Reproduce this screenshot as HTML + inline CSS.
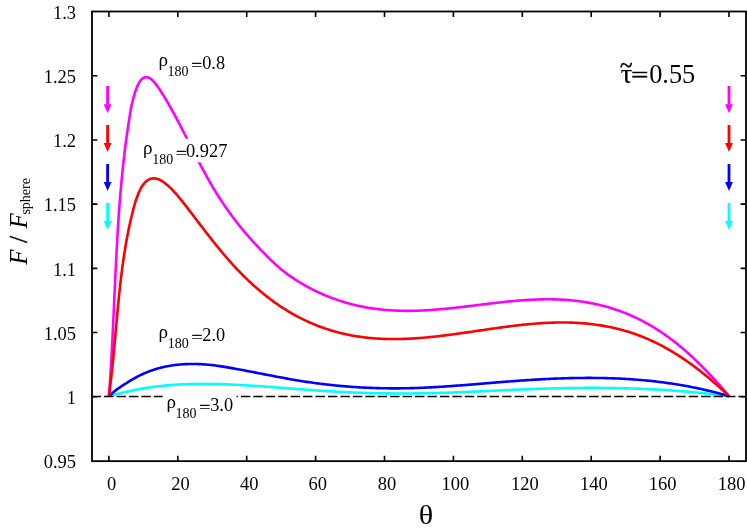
<!DOCTYPE html>
<html><head><meta charset="utf-8"><title>chart</title>
<style>html,body{margin:0;padding:0;background:#fff}body{width:747px;height:531px;overflow:hidden;position:relative;font-family:"Liberation Serif",serif}</style>
</head><body>
<svg width="747" height="531" viewBox="0 0 747 531" style="position:absolute;left:0;top:0;display:block">
<rect x="0" y="0" width="747" height="531" fill="#fff"/>
<path d="M108.90 396.20 L110.40 395.80 L111.90 395.40 L113.40 395.01 L114.90 394.62 L116.40 394.23 L117.90 393.85 L119.40 393.48 L120.90 393.11 L122.40 392.75 L123.90 392.39 L125.40 392.04 L126.90 391.69 L128.40 391.36 L129.90 391.02 L131.40 390.70 L132.90 390.38 L134.40 390.07 L135.90 389.77 L137.40 389.48 L138.90 389.20 L140.40 388.92 L141.90 388.65 L143.40 388.39 L144.90 388.14 L146.40 387.90 L147.90 387.67 L149.40 387.45 L150.90 387.23 L152.40 387.02 L153.90 386.82 L155.40 386.63 L156.90 386.44 L158.40 386.27 L159.90 386.10 L161.40 385.93 L162.90 385.78 L164.40 385.63 L165.90 385.49 L167.40 385.36 L168.90 385.23 L170.40 385.11 L171.90 385.00 L173.40 384.89 L174.90 384.79 L176.40 384.69 L177.90 384.60 L179.40 384.52 L180.90 384.44 L182.40 384.37 L183.90 384.31 L185.40 384.25 L186.90 384.19 L188.40 384.14 L189.90 384.10 L191.40 384.06 L192.90 384.03 L194.40 384.00 L195.90 383.98 L197.40 383.96 L198.90 383.94 L200.40 383.93 L201.90 383.93 L203.40 383.92 L204.90 383.93 L206.40 383.93 L207.90 383.94 L209.40 383.96 L210.90 383.98 L212.40 384.00 L213.90 384.03 L215.40 384.06 L216.90 384.09 L218.40 384.13 L219.90 384.17 L221.40 384.21 L222.90 384.26 L224.40 384.31 L225.90 384.36 L227.40 384.42 L228.90 384.48 L230.40 384.54 L231.90 384.61 L233.40 384.68 L234.90 384.75 L236.40 384.82 L237.90 384.90 L239.40 384.98 L240.90 385.06 L242.40 385.14 L243.90 385.22 L245.40 385.31 L246.90 385.40 L248.40 385.49 L249.90 385.58 L251.40 385.68 L252.90 385.77 L254.40 385.87 L255.90 385.97 L257.40 386.07 L258.90 386.17 L260.40 386.28 L261.90 386.38 L263.40 386.49 L264.90 386.59 L266.40 386.70 L267.90 386.81 L269.40 386.92 L270.90 387.03 L272.40 387.14 L273.90 387.25 L275.40 387.36 L276.90 387.47 L278.40 387.59 L279.90 387.70 L281.40 387.82 L282.90 387.93 L284.40 388.05 L285.90 388.16 L287.40 388.28 L288.90 388.39 L290.40 388.51 L291.90 388.62 L293.40 388.74 L294.90 388.85 L296.40 388.96 L297.90 389.08 L299.40 389.19 L300.90 389.31 L302.40 389.42 L303.90 389.53 L305.40 389.64 L306.90 389.75 L308.40 389.86 L309.90 389.97 L311.40 390.08 L312.90 390.19 L314.40 390.30 L315.90 390.40 L317.40 390.50 L318.90 390.61 L320.40 390.71 L321.90 390.81 L323.40 390.91 L324.90 391.01 L326.40 391.10 L327.90 391.20 L329.40 391.29 L330.90 391.38 L332.40 391.47 L333.90 391.56 L335.40 391.65 L336.90 391.73 L338.40 391.81 L339.90 391.89 L341.40 391.97 L342.90 392.04 L344.40 392.12 L345.90 392.19 L347.40 392.26 L348.90 392.33 L350.40 392.39 L351.90 392.46 L353.40 392.52 L354.90 392.58 L356.40 392.63 L357.90 392.69 L359.40 392.74 L360.90 392.79 L362.40 392.84 L363.90 392.89 L365.40 392.94 L366.90 392.98 L368.40 393.02 L369.90 393.06 L371.40 393.10 L372.90 393.14 L374.40 393.17 L375.90 393.20 L377.40 393.24 L378.90 393.26 L380.40 393.29 L381.90 393.32 L383.40 393.34 L384.90 393.36 L386.40 393.38 L387.90 393.40 L389.40 393.41 L390.90 393.43 L392.40 393.44 L393.90 393.45 L395.40 393.46 L396.90 393.46 L398.40 393.47 L399.90 393.47 L401.40 393.47 L402.90 393.47 L404.40 393.47 L405.90 393.47 L407.40 393.46 L408.90 393.45 L410.40 393.44 L411.90 393.43 L413.40 393.42 L414.90 393.41 L416.40 393.39 L417.90 393.37 L419.40 393.35 L420.90 393.33 L422.40 393.31 L423.90 393.28 L425.40 393.26 L426.90 393.23 L428.40 393.20 L429.90 393.17 L431.40 393.14 L432.90 393.10 L434.40 393.07 L435.90 393.03 L437.40 392.99 L438.90 392.95 L440.40 392.91 L441.90 392.87 L443.40 392.82 L444.90 392.77 L446.40 392.73 L447.90 392.68 L449.40 392.62 L450.90 392.57 L452.40 392.52 L453.90 392.46 L455.40 392.41 L456.90 392.35 L458.40 392.29 L459.90 392.23 L461.40 392.17 L462.90 392.11 L464.40 392.05 L465.90 391.99 L467.40 391.93 L468.90 391.86 L470.40 391.80 L471.90 391.73 L473.40 391.66 L474.90 391.60 L476.40 391.53 L477.90 391.46 L479.40 391.39 L480.90 391.32 L482.40 391.26 L483.90 391.19 L485.40 391.12 L486.90 391.05 L488.40 390.98 L489.90 390.91 L491.40 390.84 L492.90 390.77 L494.40 390.69 L495.90 390.62 L497.40 390.55 L498.90 390.48 L500.40 390.41 L501.90 390.34 L503.40 390.27 L504.90 390.21 L506.40 390.14 L507.90 390.07 L509.40 390.00 L510.90 389.93 L512.40 389.87 L513.90 389.80 L515.40 389.73 L516.90 389.67 L518.40 389.60 L519.90 389.54 L521.40 389.48 L522.90 389.42 L524.40 389.35 L525.90 389.29 L527.40 389.24 L528.90 389.18 L530.40 389.12 L531.90 389.06 L533.40 389.01 L534.90 388.96 L536.40 388.90 L537.90 388.85 L539.40 388.80 L540.90 388.75 L542.40 388.70 L543.90 388.66 L545.40 388.61 L546.90 388.57 L548.40 388.53 L549.90 388.49 L551.40 388.45 L552.90 388.41 L554.40 388.37 L555.90 388.33 L557.40 388.30 L558.90 388.27 L560.40 388.23 L561.90 388.20 L563.40 388.17 L564.90 388.15 L566.40 388.12 L567.90 388.09 L569.40 388.07 L570.90 388.05 L572.40 388.03 L573.90 388.01 L575.40 387.99 L576.90 387.98 L578.40 387.96 L579.90 387.95 L581.40 387.94 L582.90 387.93 L584.40 387.92 L585.90 387.91 L587.40 387.91 L588.90 387.90 L590.40 387.90 L591.90 387.90 L593.40 387.90 L594.90 387.90 L596.40 387.91 L597.90 387.91 L599.40 387.92 L600.90 387.93 L602.40 387.94 L603.90 387.95 L605.40 387.97 L606.90 387.99 L608.40 388.00 L609.90 388.02 L611.40 388.04 L612.90 388.07 L614.40 388.09 L615.90 388.12 L617.40 388.15 L618.90 388.18 L620.40 388.21 L621.90 388.25 L623.40 388.28 L624.90 388.32 L626.40 388.36 L627.90 388.40 L629.40 388.45 L630.90 388.49 L632.40 388.54 L633.90 388.59 L635.40 388.64 L636.90 388.69 L638.40 388.75 L639.90 388.81 L641.40 388.86 L642.90 388.93 L644.40 388.99 L645.90 389.05 L647.40 389.12 L648.90 389.19 L650.40 389.26 L651.90 389.34 L653.40 389.41 L654.90 389.49 L656.40 389.57 L657.90 389.65 L659.40 389.74 L660.90 389.82 L662.40 389.91 L663.90 390.00 L665.40 390.09 L666.90 390.19 L668.40 390.29 L669.90 390.39 L671.40 390.49 L672.90 390.59 L674.40 390.70 L675.90 390.81 L677.40 390.92 L678.90 391.03 L680.40 391.15 L681.90 391.26 L683.40 391.38 L684.90 391.51 L686.40 391.63 L687.90 391.76 L689.40 391.89 L690.90 392.02 L692.40 392.15 L693.90 392.29 L695.40 392.43 L696.90 392.57 L698.40 392.71 L699.90 392.86 L701.40 393.01 L702.90 393.16 L704.40 393.31 L705.90 393.47 L707.40 393.63 L708.90 393.79 L710.40 393.95 L711.90 394.12 L713.40 394.29 L714.90 394.46 L716.40 394.63 L717.90 394.81 L719.40 394.99 L720.90 395.17 L722.40 395.36 L723.90 395.54 L725.40 395.73 L726.90 395.93 L728.40 396.12 L729.00 396.20" fill="none" stroke="#00ffff" stroke-width="2.60" stroke-linejoin="round" stroke-linecap="butt"/>
<path d="M108.90 396.20 L110.40 394.80 L111.90 393.48 L113.40 392.21 L114.90 391.01 L116.40 389.86 L117.90 388.75 L119.40 387.69 L120.90 386.66 L122.40 385.67 L123.90 384.69 L125.40 383.74 L126.90 382.80 L128.40 381.88 L129.90 380.97 L131.40 380.07 L132.90 379.19 L134.40 378.33 L135.90 377.50 L137.40 376.70 L138.90 375.92 L140.40 375.18 L141.90 374.46 L143.40 373.78 L144.90 373.12 L146.40 372.48 L147.90 371.88 L149.40 371.30 L150.90 370.75 L152.40 370.22 L153.90 369.71 L155.40 369.23 L156.90 368.78 L158.40 368.35 L159.90 367.94 L161.40 367.56 L162.90 367.19 L164.40 366.85 L165.90 366.53 L167.40 366.23 L168.90 365.96 L170.40 365.70 L171.90 365.46 L173.40 365.24 L174.90 365.05 L176.40 364.86 L177.90 364.70 L179.40 364.56 L180.90 364.43 L182.40 364.32 L183.90 364.22 L185.40 364.15 L186.90 364.08 L188.40 364.03 L189.90 364.00 L191.40 363.98 L192.90 363.98 L194.40 363.99 L195.90 364.01 L197.40 364.05 L198.90 364.10 L200.40 364.17 L201.90 364.25 L203.40 364.34 L204.90 364.44 L206.40 364.56 L207.90 364.69 L209.40 364.83 L210.90 364.99 L212.40 365.15 L213.90 365.33 L215.40 365.52 L216.90 365.72 L218.40 365.92 L219.90 366.14 L221.40 366.37 L222.90 366.61 L224.40 366.85 L225.90 367.10 L227.40 367.35 L228.90 367.61 L230.40 367.87 L231.90 368.13 L233.40 368.40 L234.90 368.67 L236.40 368.95 L237.90 369.22 L239.40 369.50 L240.90 369.78 L242.40 370.06 L243.90 370.34 L245.40 370.62 L246.90 370.91 L248.40 371.20 L249.90 371.48 L251.40 371.77 L252.90 372.06 L254.40 372.35 L255.90 372.64 L257.40 372.93 L258.90 373.22 L260.40 373.52 L261.90 373.81 L263.40 374.10 L264.90 374.39 L266.40 374.68 L267.90 374.97 L269.40 375.26 L270.90 375.55 L272.40 375.84 L273.90 376.13 L275.40 376.41 L276.90 376.70 L278.40 376.98 L279.90 377.26 L281.40 377.54 L282.90 377.82 L284.40 378.09 L285.90 378.37 L287.40 378.64 L288.90 378.91 L290.40 379.17 L291.90 379.44 L293.40 379.70 L294.90 379.95 L296.40 380.21 L297.90 380.46 L299.40 380.71 L300.90 380.95 L302.40 381.19 L303.90 381.43 L305.40 381.66 L306.90 381.89 L308.40 382.11 L309.90 382.33 L311.40 382.55 L312.90 382.76 L314.40 382.97 L315.90 383.17 L317.40 383.37 L318.90 383.57 L320.40 383.76 L321.90 383.95 L323.40 384.13 L324.90 384.31 L326.40 384.49 L327.90 384.66 L329.40 384.83 L330.90 384.99 L332.40 385.15 L333.90 385.30 L335.40 385.45 L336.90 385.60 L338.40 385.75 L339.90 385.89 L341.40 386.02 L342.90 386.15 L344.40 386.28 L345.90 386.40 L347.40 386.52 L348.90 386.64 L350.40 386.75 L351.90 386.86 L353.40 386.96 L354.90 387.06 L356.40 387.16 L357.90 387.25 L359.40 387.34 L360.90 387.43 L362.40 387.51 L363.90 387.59 L365.40 387.66 L366.90 387.73 L368.40 387.80 L369.90 387.86 L371.40 387.92 L372.90 387.97 L374.40 388.02 L375.90 388.07 L377.40 388.12 L378.90 388.16 L380.40 388.19 L381.90 388.22 L383.40 388.25 L384.90 388.28 L386.40 388.30 L387.90 388.32 L389.40 388.33 L390.90 388.34 L392.40 388.35 L393.90 388.35 L395.40 388.35 L396.90 388.35 L398.40 388.34 L399.90 388.33 L401.40 388.32 L402.90 388.30 L404.40 388.28 L405.90 388.25 L407.40 388.23 L408.90 388.19 L410.40 388.16 L411.90 388.12 L413.40 388.08 L414.90 388.03 L416.40 387.98 L417.90 387.93 L419.40 387.87 L420.90 387.82 L422.40 387.75 L423.90 387.69 L425.40 387.62 L426.90 387.55 L428.40 387.48 L429.90 387.41 L431.40 387.33 L432.90 387.25 L434.40 387.16 L435.90 387.08 L437.40 386.99 L438.90 386.90 L440.40 386.81 L441.90 386.71 L443.40 386.62 L444.90 386.52 L446.40 386.42 L447.90 386.32 L449.40 386.21 L450.90 386.11 L452.40 386.00 L453.90 385.89 L455.40 385.78 L456.90 385.67 L458.40 385.56 L459.90 385.45 L461.40 385.33 L462.90 385.22 L464.40 385.10 L465.90 384.98 L467.40 384.86 L468.90 384.74 L470.40 384.62 L471.90 384.50 L473.40 384.38 L474.90 384.25 L476.40 384.13 L477.90 384.01 L479.40 383.88 L480.90 383.76 L482.40 383.63 L483.90 383.51 L485.40 383.38 L486.90 383.26 L488.40 383.14 L489.90 383.01 L491.40 382.89 L492.90 382.76 L494.40 382.64 L495.90 382.52 L497.40 382.39 L498.90 382.27 L500.40 382.15 L501.90 382.03 L503.40 381.91 L504.90 381.79 L506.40 381.67 L507.90 381.55 L509.40 381.44 L510.90 381.32 L512.40 381.21 L513.90 381.09 L515.40 380.98 L516.90 380.87 L518.40 380.76 L519.90 380.66 L521.40 380.55 L522.90 380.45 L524.40 380.34 L525.90 380.24 L527.40 380.14 L528.90 380.04 L530.40 379.95 L531.90 379.85 L533.40 379.76 L534.90 379.67 L536.40 379.58 L537.90 379.50 L539.40 379.41 L540.90 379.33 L542.40 379.25 L543.90 379.17 L545.40 379.09 L546.90 379.01 L548.40 378.94 L549.90 378.87 L551.40 378.80 L552.90 378.74 L554.40 378.67 L555.90 378.61 L557.40 378.55 L558.90 378.50 L560.40 378.44 L561.90 378.39 L563.40 378.34 L564.90 378.29 L566.40 378.25 L567.90 378.21 L569.40 378.17 L570.90 378.13 L572.40 378.10 L573.90 378.07 L575.40 378.04 L576.90 378.01 L578.40 377.99 L579.90 377.97 L581.40 377.95 L582.90 377.94 L584.40 377.93 L585.90 377.92 L587.40 377.91 L588.90 377.91 L590.40 377.91 L591.90 377.92 L593.40 377.93 L594.90 377.94 L596.40 377.95 L597.90 377.97 L599.40 377.99 L600.90 378.01 L602.40 378.04 L603.90 378.07 L605.40 378.10 L606.90 378.14 L608.40 378.18 L609.90 378.23 L611.40 378.28 L612.90 378.33 L614.40 378.38 L615.90 378.44 L617.40 378.51 L618.90 378.57 L620.40 378.64 L621.90 378.72 L623.40 378.80 L624.90 378.88 L626.40 378.97 L627.90 379.06 L629.40 379.15 L630.90 379.25 L632.40 379.35 L633.90 379.46 L635.40 379.57 L636.90 379.68 L638.40 379.80 L639.90 379.93 L641.40 380.06 L642.90 380.19 L644.40 380.32 L645.90 380.46 L647.40 380.61 L648.90 380.76 L650.40 380.91 L651.90 381.07 L653.40 381.24 L654.90 381.40 L656.40 381.58 L657.90 381.76 L659.40 381.94 L660.90 382.12 L662.40 382.32 L663.90 382.51 L665.40 382.71 L666.90 382.92 L668.40 383.13 L669.90 383.35 L671.40 383.57 L672.90 383.79 L674.40 384.03 L675.90 384.26 L677.40 384.50 L678.90 384.75 L680.40 385.00 L681.90 385.26 L683.40 385.52 L684.90 385.79 L686.40 386.06 L687.90 386.34 L689.40 386.63 L690.90 386.91 L692.40 387.21 L693.90 387.51 L695.40 387.82 L696.90 388.13 L698.40 388.44 L699.90 388.77 L701.40 389.10 L702.90 389.43 L704.40 389.77 L705.90 390.12 L707.40 390.47 L708.90 390.83 L710.40 391.19 L711.90 391.56 L713.40 391.93 L714.90 392.31 L716.40 392.70 L717.90 393.10 L719.40 393.50 L720.90 393.90 L722.40 394.31 L723.90 394.73 L725.40 395.16 L726.90 395.59 L728.40 396.02 L729.00 396.20" fill="none" stroke="#0000ff" stroke-width="2.60" stroke-linejoin="round" stroke-linecap="butt"/>
<path d="M108.90 396.20 L109.05 394.20 L109.20 392.20 L109.35 390.20 L109.50 388.20 L109.64 386.20 L109.78 384.20 L109.92 382.20 L110.05 380.20 L110.19 378.20 L110.32 376.20 L110.45 374.20 L110.57 372.20 L110.70 370.20 L110.82 368.20 L110.94 366.20 L111.06 364.20 L111.18 362.20 L111.30 360.20 L111.41 358.20 L111.52 356.20 L111.64 354.20 L111.75 352.20 L111.85 350.20 L111.96 348.20 L112.07 346.20 L112.17 344.20 L112.27 342.20 L112.37 340.20 L112.48 338.20 L112.58 336.20 L112.67 334.20 L112.77 332.20 L112.87 330.20 L112.96 328.20 L113.06 326.20 L113.15 324.20 L113.25 322.20 L113.34 320.20 L113.43 318.20 L113.52 316.20 L113.62 314.20 L113.71 312.20 L113.80 310.20 L113.89 308.20 L113.98 306.20 L114.07 304.20 L114.16 302.20 L114.25 300.20 L114.34 298.20 L114.43 296.20 L114.52 294.20 L114.61 292.20 L114.70 290.20 L114.79 288.20 L114.88 286.20 L114.97 284.20 L115.06 282.20 L115.16 280.20 L115.25 278.20 L115.34 276.20 L115.44 274.20 L115.53 272.20 L115.63 270.20 L115.72 268.20 L115.82 266.20 L115.92 264.20 L116.02 262.20 L116.12 260.20 L116.22 258.20 L116.32 256.20 L116.43 254.20 L116.53 252.20 L116.64 250.20 L116.75 248.20 L116.86 246.20 L116.97 244.20 L117.08 242.20 L117.19 240.20 L117.31 238.20 L117.43 236.20 L117.54 234.20 L117.67 232.20 L117.79 230.20 L117.91 228.20 L118.04 226.20 L118.17 224.20 L118.30 222.20 L118.43 220.20 L118.57 218.20 L118.70 216.20 L118.84 214.20 L118.99 212.20 L119.13 210.20 L119.28 208.20 L119.43 206.20 L119.58 204.20 L119.73 202.20 L119.89 200.20 L120.05 198.20 L120.22 196.20 L120.38 194.20 L120.55 192.20 L120.72 190.20 L120.90 188.20 L121.08 186.20 L121.26 184.20 L121.44 182.20 L121.63 180.20 L121.82 178.20 L122.01 176.20 L122.21 174.20 L122.41 172.20 L122.62 170.20 L122.83 168.20 L123.04 166.20 L123.25 164.20 L123.47 162.20 L123.70 160.20 L123.93 158.20 L124.16 156.20 L124.39 154.20 L124.63 152.20 L124.87 150.20 L125.12 148.20 L125.37 146.20 L125.63 144.20 L125.89 142.20 L126.15 140.20 L126.42 138.20 L126.70 136.20 L126.98 134.20 L127.26 132.20 L127.55 130.20 L127.84 128.20 L128.13 126.20 L128.44 124.20 L128.74 122.20 L129.05 120.20 L129.37 118.20 L129.69 116.20 L130.02 114.20 L130.35 112.20 L130.69 110.20 L131.03 108.20 L131.38 106.20 L131.59 105.00 L132.20 102.80 L133.70 96.76 L135.20 91.74 L136.70 87.65 L138.20 84.36 L139.70 81.78 L141.20 79.81 L142.70 78.42 L144.20 77.55 L145.70 77.17 L147.20 77.22 L148.70 77.68 L150.20 78.50 L151.70 79.64 L153.20 81.07 L154.70 82.74 L156.20 84.62 L157.70 86.67 L159.20 88.86 L160.70 91.13 L162.20 93.48 L163.70 95.88 L165.20 98.35 L166.70 100.87 L168.20 103.45 L169.70 106.07 L171.20 108.74 L172.70 111.45 L174.20 114.20 L175.70 116.98 L177.20 119.80 L178.70 122.64 L180.20 125.51 L181.70 128.40 L183.20 131.31 L184.70 134.23 L186.20 137.16 L187.70 140.10 L189.20 143.04 L190.70 145.99 L192.20 148.93 L193.70 151.86 L195.20 154.79 L196.70 157.70 L198.20 160.59 L199.70 163.46 L201.20 166.31 L202.70 169.14 L204.20 171.93 L205.70 174.68 L207.20 177.40 L208.70 180.08 L210.20 182.71 L211.70 185.30 L213.20 187.84 L214.70 190.33 L216.20 192.78 L217.70 195.19 L219.20 197.55 L220.70 199.87 L222.20 202.14 L223.70 204.38 L225.20 206.58 L226.70 208.75 L228.20 210.87 L229.70 212.96 L231.20 215.01 L232.70 217.03 L234.20 219.02 L235.70 220.98 L237.20 222.90 L238.70 224.80 L240.20 226.67 L241.70 228.50 L243.20 230.32 L244.70 232.10 L246.20 233.87 L247.70 235.60 L249.20 237.32 L250.70 239.01 L252.20 240.69 L253.70 242.34 L255.20 243.97 L256.70 245.59 L258.20 247.19 L259.70 248.78 L261.20 250.35 L262.70 251.90 L264.20 253.44 L265.70 254.96 L267.20 256.46 L268.70 257.94 L270.20 259.40 L271.70 260.84 L273.20 262.25 L274.70 263.64 L276.20 265.00 L277.70 266.33 L279.20 267.63 L280.70 268.90 L282.20 270.14 L283.70 271.34 L285.20 272.51 L286.70 273.65 L288.20 274.76 L289.70 275.83 L291.20 276.88 L292.70 277.90 L294.20 278.90 L295.70 279.87 L297.20 280.82 L298.70 281.75 L300.20 282.66 L301.70 283.55 L303.20 284.43 L304.70 285.29 L306.20 286.13 L307.70 286.95 L309.20 287.76 L310.70 288.55 L312.20 289.33 L313.70 290.09 L315.20 290.83 L316.70 291.56 L318.20 292.27 L319.70 292.96 L321.20 293.64 L322.70 294.31 L324.20 294.95 L325.70 295.59 L327.20 296.21 L328.70 296.81 L330.20 297.40 L331.70 297.97 L333.20 298.53 L334.70 299.07 L336.20 299.60 L337.70 300.12 L339.20 300.62 L340.70 301.11 L342.20 301.58 L343.70 302.04 L345.20 302.49 L346.70 302.92 L348.20 303.35 L349.70 303.75 L351.20 304.15 L352.70 304.53 L354.20 304.90 L355.70 305.25 L357.20 305.60 L358.70 305.93 L360.20 306.25 L361.70 306.56 L363.20 306.85 L364.70 307.13 L366.20 307.41 L367.70 307.67 L369.20 307.92 L370.70 308.15 L372.20 308.38 L373.70 308.60 L375.20 308.80 L376.70 309.00 L378.20 309.18 L379.70 309.35 L381.20 309.52 L382.70 309.67 L384.20 309.81 L385.70 309.94 L387.20 310.07 L388.70 310.18 L390.20 310.28 L391.70 310.38 L393.20 310.46 L394.70 310.54 L396.20 310.61 L397.70 310.67 L399.20 310.71 L400.70 310.76 L402.20 310.79 L403.70 310.81 L405.20 310.83 L406.70 310.84 L408.20 310.84 L409.70 310.83 L411.20 310.81 L412.70 310.79 L414.20 310.76 L415.70 310.72 L417.20 310.68 L418.70 310.63 L420.20 310.57 L421.70 310.51 L423.20 310.44 L424.70 310.36 L426.20 310.28 L427.70 310.19 L429.20 310.10 L430.70 310.00 L432.20 309.89 L433.70 309.78 L435.20 309.67 L436.70 309.55 L438.20 309.42 L439.70 309.30 L441.20 309.16 L442.70 309.03 L444.20 308.89 L445.70 308.74 L447.20 308.59 L448.70 308.44 L450.20 308.29 L451.70 308.13 L453.20 307.97 L454.70 307.80 L456.20 307.64 L457.70 307.47 L459.20 307.30 L460.70 307.12 L462.20 306.95 L463.70 306.77 L465.20 306.59 L466.70 306.41 L468.20 306.23 L469.70 306.05 L471.20 305.87 L472.70 305.68 L474.20 305.50 L475.70 305.32 L477.20 305.13 L478.70 304.95 L480.20 304.76 L481.70 304.58 L483.20 304.39 L484.70 304.21 L486.20 304.03 L487.70 303.84 L489.20 303.66 L490.70 303.48 L492.20 303.31 L493.70 303.13 L495.20 302.96 L496.70 302.78 L498.20 302.61 L499.70 302.45 L501.20 302.28 L502.70 302.12 L504.20 301.96 L505.70 301.80 L507.20 301.65 L508.70 301.50 L510.20 301.35 L511.70 301.21 L513.20 301.07 L514.70 300.93 L516.20 300.80 L517.70 300.67 L519.20 300.55 L520.70 300.43 L522.20 300.32 L523.70 300.21 L525.20 300.11 L526.70 300.01 L528.20 299.92 L529.70 299.83 L531.20 299.75 L532.70 299.68 L534.20 299.61 L535.70 299.55 L537.20 299.49 L538.70 299.44 L540.20 299.40 L541.70 299.37 L543.20 299.34 L544.70 299.32 L546.20 299.31 L547.70 299.30 L549.20 299.31 L550.70 299.32 L552.20 299.34 L553.70 299.36 L555.20 299.40 L556.70 299.44 L558.20 299.50 L559.70 299.56 L561.20 299.63 L562.70 299.71 L564.20 299.80 L565.70 299.90 L567.20 300.01 L568.70 300.13 L570.20 300.26 L571.70 300.40 L573.20 300.55 L574.70 300.71 L576.20 300.88 L577.70 301.06 L579.20 301.25 L580.70 301.45 L582.20 301.67 L583.70 301.89 L585.20 302.13 L586.70 302.37 L588.20 302.63 L589.70 302.90 L591.20 303.19 L592.70 303.48 L594.20 303.79 L595.70 304.11 L597.20 304.44 L598.70 304.78 L600.20 305.14 L601.70 305.51 L603.20 305.89 L604.70 306.29 L606.20 306.70 L607.70 307.12 L609.20 307.56 L610.70 308.01 L612.20 308.47 L613.70 308.95 L615.20 309.45 L616.70 309.95 L618.20 310.47 L619.70 311.01 L621.20 311.56 L622.70 312.13 L624.20 312.71 L625.70 313.30 L627.20 313.91 L628.70 314.54 L630.20 315.18 L631.70 315.84 L633.20 316.51 L634.70 317.20 L636.20 317.91 L637.70 318.63 L639.20 319.37 L640.70 320.13 L642.20 320.90 L643.70 321.69 L645.20 322.49 L646.70 323.32 L648.20 324.16 L649.70 325.02 L651.20 325.89 L652.70 326.78 L654.20 327.70 L655.70 328.62 L657.20 329.57 L658.70 330.54 L660.20 331.52 L661.70 332.52 L663.20 333.55 L664.70 334.59 L666.20 335.65 L667.70 336.72 L669.20 337.82 L670.70 338.94 L672.20 340.07 L673.70 341.23 L675.20 342.40 L676.70 343.59 L678.20 344.81 L679.70 346.03 L681.20 347.28 L682.70 348.55 L684.20 349.83 L685.70 351.14 L687.20 352.46 L688.70 353.80 L690.20 355.15 L691.70 356.53 L693.20 357.92 L694.70 359.33 L696.20 360.76 L697.70 362.20 L699.20 363.67 L700.70 365.15 L702.20 366.64 L703.70 368.16 L705.20 369.69 L706.70 371.24 L708.20 372.80 L709.70 374.38 L711.20 375.98 L712.70 377.60 L714.20 379.23 L715.70 380.88 L717.20 382.54 L718.70 384.22 L720.20 385.92 L721.70 387.64 L723.20 389.36 L724.70 391.11 L726.20 392.87 L727.70 394.65 L729.00 396.20" fill="none" stroke="#ff00ff" stroke-width="2.60" stroke-linejoin="round" stroke-linecap="butt"/>
<path d="M108.90 396.20 L109.17 394.20 L109.44 392.20 L109.70 390.20 L109.96 388.20 L110.21 386.20 L110.45 384.20 L110.69 382.20 L110.93 380.20 L111.16 378.20 L111.39 376.20 L111.61 374.20 L111.83 372.20 L112.04 370.20 L112.26 368.20 L112.47 366.20 L112.67 364.20 L112.87 362.20 L113.07 360.20 L113.27 358.20 L113.46 356.20 L113.66 354.20 L113.85 352.20 L114.03 350.20 L114.22 348.20 L114.40 346.20 L114.59 344.20 L114.77 342.20 L114.95 340.20 L115.13 338.20 L115.31 336.20 L115.49 334.20 L115.67 332.20 L115.84 330.20 L116.02 328.20 L116.20 326.20 L116.38 324.20 L116.56 322.20 L116.74 320.20 L116.92 318.20 L117.10 316.20 L117.28 314.20 L117.47 312.20 L117.65 310.20 L117.84 308.20 L118.03 306.20 L118.22 304.20 L118.42 302.20 L118.61 300.20 L118.81 298.20 L119.02 296.20 L119.22 294.20 L119.43 292.20 L119.64 290.20 L119.86 288.20 L120.08 286.20 L120.30 284.20 L120.53 282.20 L120.76 280.20 L120.99 278.20 L121.24 276.20 L121.48 274.20 L121.73 272.20 L121.99 270.20 L122.25 268.20 L122.51 266.20 L122.79 264.20 L123.06 262.20 L123.35 260.20 L123.64 258.20 L123.93 256.20 L124.24 254.20 L124.55 252.20 L124.86 250.20 L125.19 248.20 L125.52 246.20 L125.86 244.20 L126.21 242.20 L126.56 240.20 L126.93 238.20 L127.30 236.20 L127.68 234.20 L128.07 232.20 L128.48 230.20 L128.89 228.20 L129.31 226.20 L129.74 224.20 L130.19 222.20 L130.64 220.20 L131.11 218.20 L131.59 216.20 L132.08 214.20 L132.58 212.20 L133.10 210.20 L133.63 208.20 L134.17 206.20 L134.73 204.20 L135.30 202.20 L135.89 200.20 L135.95 200.00 L137.10 196.98 L138.60 192.98 L140.10 189.69 L141.60 186.99 L143.10 184.77 L144.60 182.94 L146.10 181.45 L147.60 180.28 L149.10 179.41 L150.60 178.81 L152.10 178.46 L153.60 178.34 L155.10 178.42 L156.60 178.70 L158.10 179.16 L159.60 179.79 L161.10 180.56 L162.60 181.47 L164.10 182.51 L165.60 183.66 L167.10 184.90 L168.60 186.24 L170.10 187.65 L171.60 189.13 L173.10 190.69 L174.60 192.31 L176.10 193.99 L177.60 195.72 L179.10 197.50 L180.60 199.32 L182.10 201.18 L183.60 203.07 L185.10 204.98 L186.60 206.92 L188.10 208.87 L189.60 210.84 L191.10 212.80 L192.60 214.77 L194.10 216.74 L195.60 218.71 L197.10 220.68 L198.60 222.65 L200.10 224.61 L201.60 226.56 L203.10 228.52 L204.60 230.46 L206.10 232.40 L207.60 234.33 L209.10 236.26 L210.60 238.17 L212.10 240.07 L213.60 241.96 L215.10 243.84 L216.60 245.70 L218.10 247.55 L219.60 249.38 L221.10 251.20 L222.60 253.00 L224.10 254.77 L225.60 256.53 L227.10 258.27 L228.60 259.99 L230.10 261.69 L231.60 263.36 L233.10 265.01 L234.60 266.64 L236.10 268.25 L237.60 269.84 L239.10 271.40 L240.60 272.94 L242.10 274.46 L243.60 275.96 L245.10 277.44 L246.60 278.90 L248.10 280.33 L249.60 281.75 L251.10 283.14 L252.60 284.52 L254.10 285.87 L255.60 287.20 L257.10 288.51 L258.60 289.80 L260.10 291.07 L261.60 292.33 L263.10 293.56 L264.60 294.77 L266.10 295.96 L267.60 297.13 L269.10 298.28 L270.60 299.42 L272.10 300.53 L273.60 301.62 L275.10 302.70 L276.60 303.76 L278.10 304.79 L279.60 305.81 L281.10 306.81 L282.60 307.79 L284.10 308.76 L285.60 309.70 L287.10 310.63 L288.60 311.54 L290.10 312.43 L291.60 313.30 L293.10 314.16 L294.60 315.00 L296.10 315.82 L297.60 316.63 L299.10 317.41 L300.60 318.19 L302.10 318.94 L303.60 319.68 L305.10 320.40 L306.60 321.10 L308.10 321.79 L309.60 322.47 L311.10 323.12 L312.60 323.77 L314.10 324.39 L315.60 325.00 L317.10 325.60 L318.60 326.18 L320.10 326.74 L321.60 327.30 L323.10 327.83 L324.60 328.35 L326.10 328.86 L327.60 329.35 L329.10 329.83 L330.60 330.30 L332.10 330.75 L333.60 331.19 L335.10 331.61 L336.60 332.02 L338.10 332.42 L339.60 332.80 L341.10 333.17 L342.60 333.53 L344.10 333.87 L345.60 334.21 L347.10 334.53 L348.60 334.84 L350.10 335.13 L351.60 335.42 L353.10 335.69 L354.60 335.95 L356.10 336.20 L357.60 336.44 L359.10 336.66 L360.60 336.88 L362.10 337.08 L363.60 337.27 L365.10 337.46 L366.60 337.63 L368.10 337.79 L369.60 337.94 L371.10 338.08 L372.60 338.21 L374.10 338.33 L375.60 338.44 L377.10 338.55 L378.60 338.64 L380.10 338.72 L381.60 338.79 L383.10 338.86 L384.60 338.91 L386.10 338.96 L387.60 339.00 L389.10 339.03 L390.60 339.05 L392.10 339.06 L393.60 339.07 L395.10 339.07 L396.60 339.05 L398.10 339.04 L399.60 339.01 L401.10 338.98 L402.60 338.94 L404.10 338.89 L405.60 338.84 L407.10 338.78 L408.60 338.71 L410.10 338.63 L411.60 338.55 L413.10 338.47 L414.60 338.37 L416.10 338.27 L417.60 338.17 L419.10 338.06 L420.60 337.94 L422.10 337.82 L423.60 337.70 L425.10 337.56 L426.60 337.43 L428.10 337.29 L429.60 337.14 L431.10 336.99 L432.60 336.83 L434.10 336.68 L435.60 336.51 L437.10 336.34 L438.60 336.17 L440.10 336.00 L441.60 335.82 L443.10 335.64 L444.60 335.45 L446.10 335.26 L447.60 335.07 L449.10 334.88 L450.60 334.68 L452.10 334.48 L453.60 334.28 L455.10 334.08 L456.60 333.87 L458.10 333.66 L459.60 333.45 L461.10 333.24 L462.60 333.03 L464.10 332.81 L465.60 332.60 L467.10 332.38 L468.60 332.16 L470.10 331.94 L471.60 331.72 L473.10 331.50 L474.60 331.28 L476.10 331.06 L477.60 330.84 L479.10 330.62 L480.60 330.39 L482.10 330.17 L483.60 329.95 L485.10 329.73 L486.60 329.51 L488.10 329.29 L489.60 329.07 L491.10 328.86 L492.60 328.64 L494.10 328.43 L495.60 328.22 L497.10 328.00 L498.60 327.80 L500.10 327.59 L501.60 327.38 L503.10 327.18 L504.60 326.98 L506.10 326.78 L507.60 326.59 L509.10 326.39 L510.60 326.20 L512.10 326.02 L513.60 325.83 L515.10 325.65 L516.60 325.48 L518.10 325.30 L519.60 325.13 L521.10 324.97 L522.60 324.81 L524.10 324.65 L525.60 324.50 L527.10 324.35 L528.60 324.20 L530.10 324.06 L531.60 323.93 L533.10 323.80 L534.60 323.68 L536.10 323.56 L537.60 323.44 L539.10 323.34 L540.60 323.24 L542.10 323.14 L543.60 323.05 L545.10 322.97 L546.60 322.89 L548.10 322.82 L549.60 322.75 L551.10 322.69 L552.60 322.64 L554.10 322.60 L555.60 322.56 L557.10 322.53 L558.60 322.51 L560.10 322.50 L561.60 322.49 L563.10 322.49 L564.60 322.50 L566.10 322.51 L567.60 322.54 L569.10 322.57 L570.60 322.61 L572.10 322.66 L573.60 322.72 L575.10 322.79 L576.60 322.86 L578.10 322.95 L579.60 323.04 L581.10 323.14 L582.60 323.26 L584.10 323.38 L585.60 323.51 L587.10 323.65 L588.60 323.80 L590.10 323.96 L591.60 324.14 L593.10 324.32 L594.60 324.51 L596.10 324.71 L597.60 324.92 L599.10 325.15 L600.60 325.38 L602.10 325.63 L603.60 325.89 L605.10 326.16 L606.60 326.43 L608.10 326.73 L609.60 327.03 L611.10 327.34 L612.60 327.67 L614.10 328.01 L615.60 328.36 L617.10 328.72 L618.60 329.10 L620.10 329.49 L621.60 329.89 L623.10 330.30 L624.60 330.73 L626.10 331.17 L627.60 331.62 L629.10 332.08 L630.60 332.56 L632.10 333.06 L633.60 333.56 L635.10 334.08 L636.60 334.62 L638.10 335.17 L639.60 335.73 L641.10 336.30 L642.60 336.90 L644.10 337.50 L645.60 338.12 L647.10 338.76 L648.60 339.41 L650.10 340.07 L651.60 340.75 L653.10 341.45 L654.60 342.16 L656.10 342.89 L657.60 343.63 L659.10 344.39 L660.60 345.16 L662.10 345.95 L663.60 346.75 L665.10 347.57 L666.60 348.41 L668.10 349.26 L669.60 350.13 L671.10 351.01 L672.60 351.90 L674.10 352.82 L675.60 353.74 L677.10 354.69 L678.60 355.64 L680.10 356.61 L681.60 357.60 L683.10 358.60 L684.60 359.62 L686.10 360.65 L687.60 361.70 L689.10 362.76 L690.60 363.83 L692.10 364.92 L693.60 366.03 L695.10 367.15 L696.60 368.28 L698.10 369.43 L699.60 370.59 L701.10 371.77 L702.60 372.96 L704.10 374.16 L705.60 375.38 L707.10 376.62 L708.60 377.86 L710.10 379.13 L711.60 380.40 L713.10 381.69 L714.60 382.99 L716.10 384.31 L717.60 385.64 L719.10 386.99 L720.60 388.34 L722.10 389.72 L723.60 391.10 L725.10 392.50 L726.60 393.91 L728.10 395.34 L729.00 396.20" fill="none" stroke="#ff0000" stroke-width="2.60" stroke-linejoin="round" stroke-linecap="butt"/>
<line x1="91.66" y1="396.5" x2="746.00" y2="396.5" stroke="#000" stroke-width="1.7" stroke-dasharray="9.4 3.038"/>
<rect x="92.00" y="11.50" width="654.00" height="449.65" fill="none" stroke="#000" stroke-width="1.8"/>
<path d="M108.90 461.15V455.75M108.90 11.50V16.90M177.80 461.15V455.75M177.80 11.50V16.90M246.70 461.15V455.75M246.70 11.50V16.90M315.60 461.15V455.75M315.60 11.50V16.90M384.50 461.15V455.75M384.50 11.50V16.90M453.40 461.15V455.75M453.40 11.50V16.90M522.30 461.15V455.75M522.30 11.50V16.90M591.20 461.15V455.75M591.20 11.50V16.90M660.10 461.15V455.75M660.10 11.50V16.90M729.00 461.15V455.75M729.00 11.50V16.90M92.00 396.78H97.40M746.00 396.78H740.60M92.00 332.57H97.40M746.00 332.57H740.60M92.00 268.35H97.40M746.00 268.35H740.60M92.00 204.14H97.40M746.00 204.14H740.60M92.00 139.93H97.40M746.00 139.93H740.60M92.00 75.71H97.40M746.00 75.71H740.60" stroke="#000" stroke-width="1.6" fill="none"/>
<path d="M107.60 86.00V104.70" stroke="#ff00ff" stroke-width="2.80" fill="none"/><path d="M103.70 104.20L111.50 104.20L107.60 113.20Z" fill="#ff00ff"/>
<path d="M729.00 86.00V104.70" stroke="#ff00ff" stroke-width="2.80" fill="none"/><path d="M725.10 104.20L732.90 104.20L729.00 113.20Z" fill="#ff00ff"/>
<path d="M107.60 125.00V143.60" stroke="#ff0000" stroke-width="2.80" fill="none"/><path d="M103.70 143.10L111.50 143.10L107.60 152.10Z" fill="#ff0000"/>
<path d="M729.00 125.00V143.60" stroke="#ff0000" stroke-width="2.80" fill="none"/><path d="M725.10 143.10L732.90 143.10L729.00 152.10Z" fill="#ff0000"/>
<path d="M107.60 164.00V182.50" stroke="#0000ff" stroke-width="2.80" fill="none"/><path d="M103.70 182.00L111.50 182.00L107.60 191.00Z" fill="#0000ff"/>
<path d="M729.00 164.00V182.50" stroke="#0000ff" stroke-width="2.80" fill="none"/><path d="M725.10 182.00L732.90 182.00L729.00 191.00Z" fill="#0000ff"/>
<path d="M107.60 203.00V221.40" stroke="#00ffff" stroke-width="2.80" fill="none"/><path d="M103.70 220.90L111.50 220.90L107.60 229.90Z" fill="#00ffff"/>
<path d="M729.00 203.00V221.40" stroke="#00ffff" stroke-width="2.80" fill="none"/><path d="M725.10 220.90L732.90 220.90L729.00 229.90Z" fill="#00ffff"/>
<g style="opacity:0.999">
<text x="76.00" y="468.30" font-size="18.50" text-anchor="end" style="font-family:'Liberation Serif',serif" >0.95</text>
<text x="76.00" y="404.08" font-size="18.50" text-anchor="end" style="font-family:'Liberation Serif',serif" >1</text>
<text x="76.00" y="339.87" font-size="18.50" text-anchor="end" style="font-family:'Liberation Serif',serif" >1.05</text>
<text x="76.00" y="275.65" font-size="18.50" text-anchor="end" style="font-family:'Liberation Serif',serif" >1.1</text>
<text x="76.00" y="211.44" font-size="18.50" text-anchor="end" style="font-family:'Liberation Serif',serif" >1.15</text>
<text x="76.00" y="147.23" font-size="18.50" text-anchor="end" style="font-family:'Liberation Serif',serif" >1.2</text>
<text x="76.00" y="83.01" font-size="18.50" text-anchor="end" style="font-family:'Liberation Serif',serif" >1.25</text>
<text x="76.00" y="18.79" font-size="18.50" text-anchor="end" style="font-family:'Liberation Serif',serif" >1.3</text>
<text x="111.50" y="490.30" font-size="18.50" text-anchor="middle" style="font-family:'Liberation Serif',serif" >0</text>
<text x="180.40" y="490.30" font-size="18.50" text-anchor="middle" style="font-family:'Liberation Serif',serif" >20</text>
<text x="249.30" y="490.30" font-size="18.50" text-anchor="middle" style="font-family:'Liberation Serif',serif" >40</text>
<text x="317.70" y="490.30" font-size="18.50" text-anchor="middle" style="font-family:'Liberation Serif',serif" >60</text>
<text x="387.10" y="490.30" font-size="18.50" text-anchor="middle" style="font-family:'Liberation Serif',serif" >80</text>
<text x="455.30" y="490.30" font-size="18.50" text-anchor="middle" style="font-family:'Liberation Serif',serif" >100</text>
<text x="524.90" y="490.30" font-size="18.50" text-anchor="middle" style="font-family:'Liberation Serif',serif" >120</text>
<text x="593.80" y="490.30" font-size="18.50" text-anchor="middle" style="font-family:'Liberation Serif',serif" >140</text>
<text x="662.70" y="490.30" font-size="18.50" text-anchor="middle" style="font-family:'Liberation Serif',serif" >160</text>
<text x="731.60" y="490.30" font-size="18.50" text-anchor="middle" style="font-family:'Liberation Serif',serif" >180</text>
<g transform="translate(426.1,523.6) scale(1.12,1)"><text x="0.00" y="0.00" font-size="27.00" text-anchor="middle" style="font-family:'Liberation Serif',serif" >θ</text></g>
<g transform="translate(27.0,265) rotate(-90)"><text x="0.3" y="0" font-size="25" style="font-family:'Liberation Serif',serif;font-style:italic">F</text><text x="21.9" y="0.3" font-size="26" style="font-family:'Liberation Serif',serif;stroke:#000;stroke-width:0.35">/</text><text x="36.5" y="0" font-size="25" style="font-family:'Liberation Serif',serif;font-style:italic">F</text><text x="50.4" y="3.2" font-size="14" style="font-family:'Liberation Serif',serif">sphere</text></g>
<text x="158.50" y="65.50" font-size="19.00" text-anchor="start" style="font-family:'Liberation Serif',serif" >ρ</text><text x="167.60" y="75.50" font-size="14.00" text-anchor="start" style="font-family:'Liberation Serif',serif" >180</text><g transform="translate(0,64.00) scale(1,0.850) translate(0,-64.00)"><text x="191.30" y="70.61" font-size="18.00" text-anchor="start" style="font-family:'Liberation Serif',serif" stroke="#000" stroke-width="0.40" textLength="10.90" lengthAdjust="spacingAndGlyphs">=</text></g><text x="202.20" y="68.85" font-size="18.20" text-anchor="start" style="font-family:'Liberation Serif',serif"  textLength="22.90" lengthAdjust="spacingAndGlyphs">0.8</text>
<rect x="139.00" y="138.70" width="92.70" height="23.60" fill="#fff"/><text x="143.10" y="154.10" font-size="19.00" text-anchor="start" style="font-family:'Liberation Serif',serif" >ρ</text><text x="152.20" y="164.10" font-size="14.00" text-anchor="start" style="font-family:'Liberation Serif',serif" >180</text><g transform="translate(0,152.60) scale(1,0.850) translate(0,-152.60)"><text x="175.90" y="159.21" font-size="18.00" text-anchor="start" style="font-family:'Liberation Serif',serif" stroke="#000" stroke-width="0.40" textLength="10.90" lengthAdjust="spacingAndGlyphs">=</text></g><text x="185.90" y="157.45" font-size="18.20" text-anchor="start" style="font-family:'Liberation Serif',serif"  textLength="41.50" lengthAdjust="spacingAndGlyphs">0.927</text>
<text x="158.60" y="337.90" font-size="19.00" text-anchor="start" style="font-family:'Liberation Serif',serif" >ρ</text><text x="167.70" y="347.90" font-size="14.00" text-anchor="start" style="font-family:'Liberation Serif',serif" >180</text><g transform="translate(0,336.40) scale(1,0.850) translate(0,-336.40)"><text x="191.40" y="343.01" font-size="18.00" text-anchor="start" style="font-family:'Liberation Serif',serif" stroke="#000" stroke-width="0.40" textLength="10.90" lengthAdjust="spacingAndGlyphs">=</text></g><text x="202.30" y="341.25" font-size="18.20" text-anchor="start" style="font-family:'Liberation Serif',serif"  textLength="22.90" lengthAdjust="spacingAndGlyphs">2.0</text>
<rect x="162.60" y="393.00" width="74.00" height="24.00" fill="#fff"/><text x="166.50" y="408.00" font-size="19.00" text-anchor="start" style="font-family:'Liberation Serif',serif" >ρ</text><text x="175.60" y="418.00" font-size="14.00" text-anchor="start" style="font-family:'Liberation Serif',serif" >180</text><g transform="translate(0,406.50) scale(1,0.850) translate(0,-406.50)"><text x="199.30" y="413.11" font-size="18.00" text-anchor="start" style="font-family:'Liberation Serif',serif" stroke="#000" stroke-width="0.40" textLength="10.90" lengthAdjust="spacingAndGlyphs">=</text></g><text x="210.20" y="411.35" font-size="18.20" text-anchor="start" style="font-family:'Liberation Serif',serif"  textLength="22.90" lengthAdjust="spacingAndGlyphs">3.0</text>
<text x="620.50" y="83.40" font-size="27.00" text-anchor="start" style="font-family:'Liberation Serif',serif"  textLength="12.00" lengthAdjust="spacingAndGlyphs">τ</text>
<text x="620.00" y="72.60" font-size="23.00" text-anchor="start" style="font-family:'Liberation Serif',serif" stroke="#000" stroke-width="0.45">~</text>
<g transform="translate(0,74.30) scale(1,0.770) translate(0,-74.30)"><text x="631.20" y="84.21" font-size="27.00" text-anchor="start" style="font-family:'Liberation Serif',serif" stroke="#000" stroke-width="0.75" textLength="17.10" lengthAdjust="spacingAndGlyphs">=</text></g>
<text x="649.20" y="83.40" font-size="27.00" text-anchor="start" style="font-family:'Liberation Serif',serif"  textLength="46.10" lengthAdjust="spacingAndGlyphs">0.55</text>
</g>
</svg>
</body></html>
